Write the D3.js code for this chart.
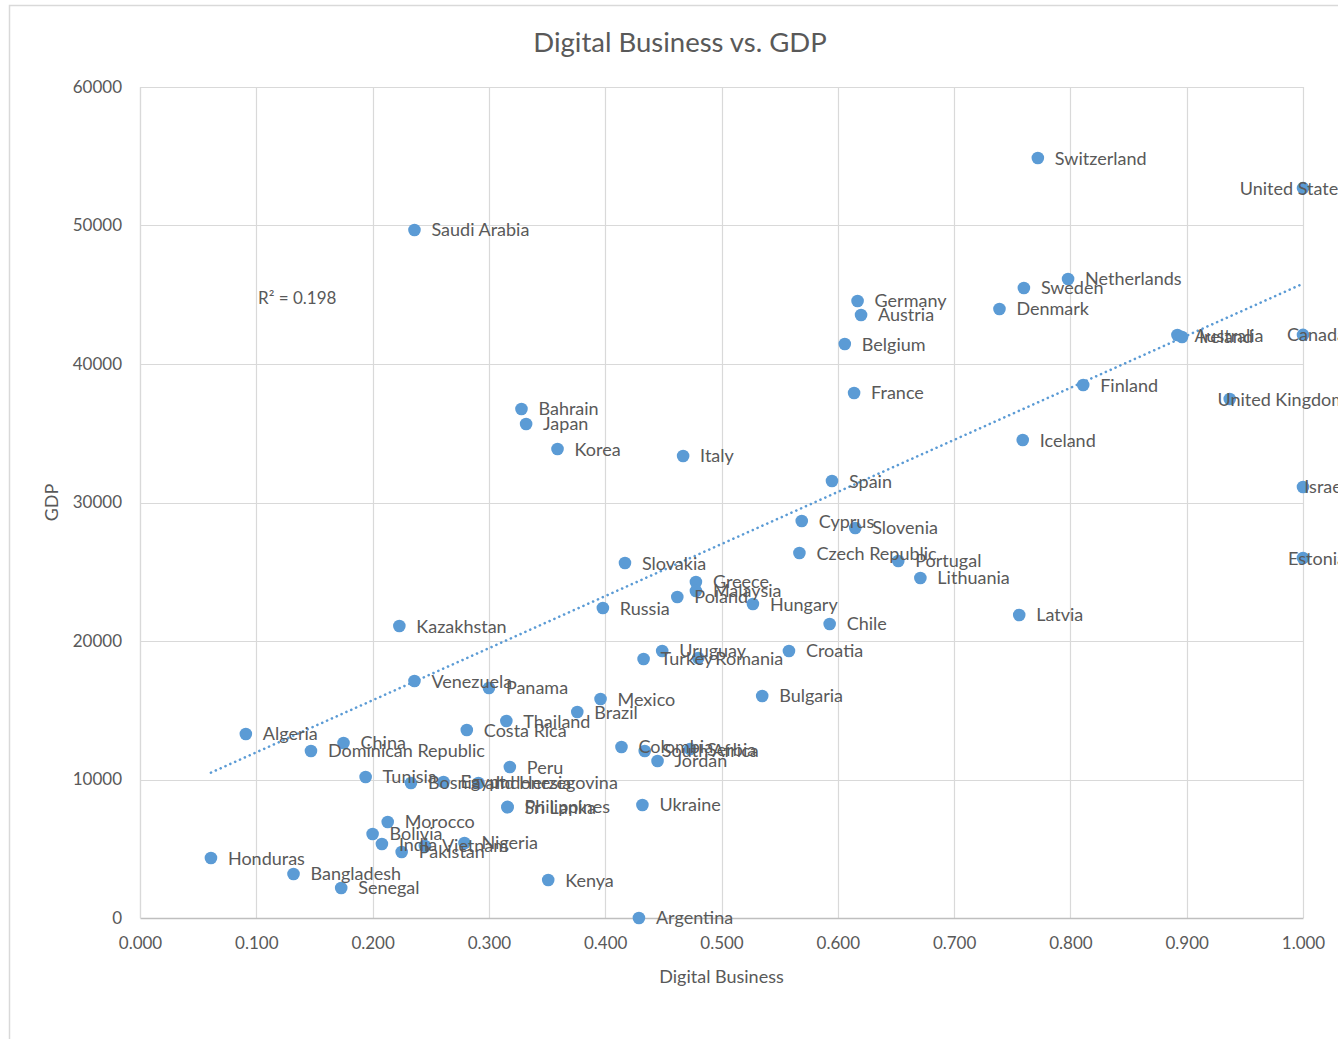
<!DOCTYPE html>
<html>
<head>
<meta charset="utf-8">
<script src="https://cdn.jsdelivr.net/npm/d3@7"></script>
<style>
  html, body { margin: 0; padding: 0; background: #fff; overflow: hidden; }
  svg { display: block; }
  text { font-family: Lato, "Open Sans", sans-serif; fill: #595959; }
</style>
</head>
<body>
<svg id="chart" width="1338" height="1039"></svg>
<script>
const countries = ["Switzerland","United States","Saudi Arabia","Netherlands","Sweden","Germany","Austria","Denmark","Australia","Ireland","Canada","Belgium","Finland","France","United Kingdom","Bahrain","Japan","Korea","Italy","Iceland","Spain","Israel","Cyprus","Slovenia","Czech Republic","Portugal","Estonia","Slovakia","Lithuania","Greece","Malaysia","Poland","Hungary","Russia","Latvia","Chile","Kazakhstan","Croatia","Uruguay","Turkey","Romania","Venezuela","Panama","Bulgaria","Mexico","Brazil","Thailand","Costa Rica","Algeria","China","Colombia","South Africa","Serbia","Jordan","Dominican Republic","Peru","Tunisia","Bosnia and Herzegovina","Egypt","Indonesia","Philippines","Sri Lanka","Ukraine","Morocco","Bolivia","India","Pakistan","Vietnam","Nigeria","Honduras","Bangladesh","Senegal","Kenya","Argentina"];
const digitalBusiness = [0.772,1.000,0.236,0.798,0.760,0.617,0.620,0.739,0.892,0.896,1.000,0.606,0.811,0.614,0.937,0.328,0.332,0.359,0.467,0.759,0.595,1.000,0.569,0.615,0.567,0.652,1.000,0.417,0.671,0.478,0.478,0.462,0.527,0.398,0.756,0.593,0.223,0.558,0.449,0.433,0.480,0.236,0.300,0.535,0.396,0.376,0.315,0.281,0.091,0.175,0.414,0.434,0.473,0.445,0.147,0.318,0.194,0.233,0.261,0.291,0.316,0.316,0.432,0.213,0.200,0.208,0.225,0.245,0.279,0.061,0.132,0.173,0.351,0.429];
const gdpValues = [54870,52700,49680,46140,45490,44550,43540,43970,42090,41950,42100,41440,38480,37910,37470,36750,35670,33860,33360,34510,31550,31120,28660,28160,26350,25780,25990,25630,24550,24260,23610,23180,22670,22380,21880,21230,21080,19280,19280,18700,18770,17110,16610,16030,15810,14870,14220,13570,13290,12640,12350,12060,12200,11340,12060,10900,10180,9750,9820,9750,8020,8000,8160,6930,6070,5340,4770,5200,5420,4330,3180,2170,2740,0];
const xTickValues = [0,0.1,0.2,0.3,0.4,0.5,0.6,0.7,0.8,0.9,1.0];
const yTickValues = [0,10000,20000,30000,40000,50000,60000];
// linear trendline as shown in the chart: GDP = slope * DigitalBusiness + intercept
const trendSlope = 37600;
const trendIntercept = 8200;
const chartTitle = "Digital Business vs. GDP";
const xTitle = "Digital Business";
const yTitle = "GDP";
const r2Label = "R² = 0.198";

const svg = d3.select("#chart");
const plot = {left: 140, right: 1303, top: 87, bottom: 918};
const x = d3.scaleLinear().domain([0, 1]).range([plot.left, plot.right]);
const y = d3.scaleLinear().domain([0, 60000]).range([plot.bottom, plot.top]);
const blue = "#5b9bd5";
const grid = "#d9d9d9";

// chart area border
svg.append("rect").attr("x", 9.5).attr("y", 5.5).attr("width", 1400).attr("height", 1100)
  .attr("fill", "#fff").attr("stroke", grid).attr("stroke-width", 1.5);

// gridlines
svg.append("g").selectAll("line").data(xTickValues).join("line")
  .attr("x1", d => Math.round(x(d)) + 0.5).attr("x2", d => Math.round(x(d)) + 0.5)
  .attr("y1", plot.top).attr("y2", plot.bottom)
  .attr("stroke", grid).attr("stroke-width", 1.2);
svg.append("g").selectAll("line").data(yTickValues.filter(d => d > 0)).join("line")
  .attr("x1", plot.left).attr("x2", plot.right)
  .attr("y1", d => Math.round(y(d)) + 0.5).attr("y2", d => Math.round(y(d)) + 0.5)
  .attr("stroke", grid).attr("stroke-width", 1.2);

// axes
const xAxis = d3.axisBottom(x).tickValues(xTickValues).tickFormat(d3.format(".3f")).tickSize(0).tickPadding(19);
const gx = svg.append("g").attr("transform", `translate(0,${plot.bottom})`).call(xAxis);
gx.select(".domain").attr("stroke", "#bfbfbf").attr("stroke-width", 1.3);
gx.selectAll("text").style("font-size", "17px").attr("fill", "#595959").style("font-family", "Lato");

const yAxis = d3.axisLeft(y).tickValues(yTickValues).tickFormat(d3.format("d")).tickSize(0).tickPadding(18);
const gy = svg.append("g").attr("transform", `translate(${plot.left},0)`).call(yAxis);
gy.select(".domain").attr("stroke", grid).attr("stroke-width", 1.2);
gy.selectAll("text").style("font-size", "17px").attr("fill", "#595959").style("font-family", "Lato");

// trendline over the data range
const [xmin, xmax] = d3.extent(digitalBusiness);
svg.append("line")
  .attr("x1", x(xmin)).attr("y1", y(trendIntercept + trendSlope * xmin))
  .attr("x2", x(xmax)).attr("y2", y(trendIntercept + trendSlope * xmax))
  .attr("stroke", blue).attr("stroke-width", 2.6)
  .attr("stroke-dasharray", "0.1 5.2").attr("stroke-linecap", "round");

// points
const data = countries.map((c, i) => ({name: c, dx: digitalBusiness[i], gdp: gdpValues[i]}));
svg.append("g").selectAll("circle").data(data).join("circle")
  .attr("cx", d => x(d.dx)).attr("cy", d => y(d.gdp)).attr("r", 6.3)
  .attr("fill", blue);

// labels
const labelG = svg.append("g");
data.forEach(d => {
  const t = labelG.append("text").text(d.name)
    .attr("y", y(d.gdp)).attr("dy", "0.36em")
    .style("font-size", "18px");
  const w = t.node().getComputedTextLength();
  const lx = Math.min(x(d.dx) + 17, 1346 - w);
  t.attr("x", lx);
});

// R² label
svg.append("text").attr("x", 258).attr("y", 298).attr("dy", "0.36em")
  .style("font-size", "17px").text(r2Label);

// title
svg.append("text").attr("x", 680).attr("y", 42).attr("dy", "0.36em").attr("text-anchor", "middle")
  .style("font-size", "27.5px").text(chartTitle);

// axis titles
svg.append("text").attr("x", (plot.left + plot.right) / 2).attr("y", 977).attr("dy", "0.36em")
  .attr("text-anchor", "middle").style("font-size", "18px").text(xTitle);
svg.append("text").attr("transform", `translate(52,${(plot.top + plot.bottom) / 2}) rotate(-90)`)
  .attr("dy", "0.36em").attr("text-anchor", "middle").style("font-size", "18px").text(yTitle);
</script>
</body>
</html>
